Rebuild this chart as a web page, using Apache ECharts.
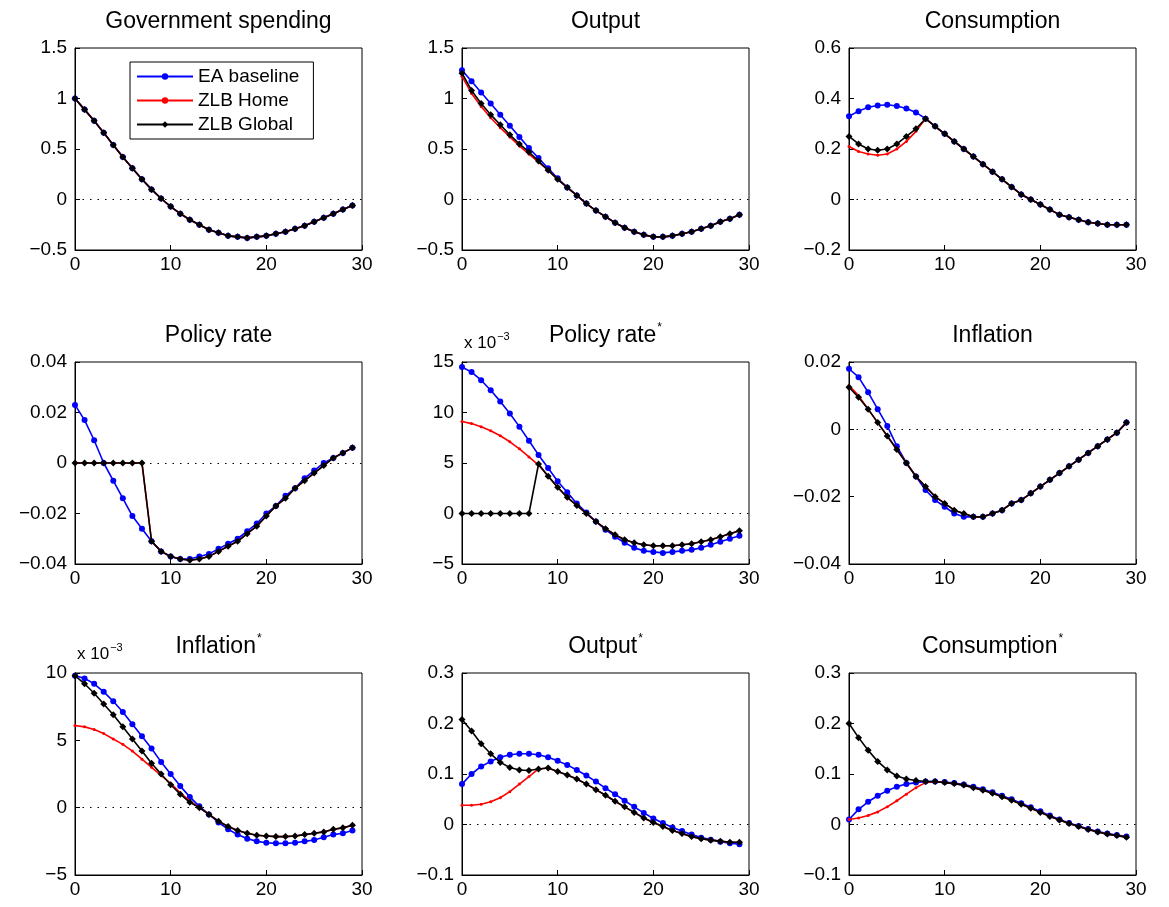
<!DOCTYPE html>
<html>
<head>
<meta charset="utf-8">
<title>IRF grid</title>
<style>
  body { margin: 0; background: #fff; }
  #container { width: 1169px; height: 907px; }
</style>
</head>
<body>
<div id="container"></div>
<script src="https://cdn.jsdelivr.net/npm/echarts@6/dist/echarts.min.js"></script>
<script type="text/javascript">
// periods 0..29
var periods = [];
for (var i = 0; i < 30; i++) periods.push(i);

var seriesNames = ['EA baseline', 'ZLB Home', 'ZLB Global'];

// Government spending (identical for all three)
var govBase = [1,0.89,0.78,0.66,0.54,0.42,0.31,0.2,0.1,0.01,-0.07,-0.14,-0.2,-0.25,-0.3,-0.33,-0.36,-0.37,-0.38,-0.37,-0.36,-0.34,-0.32,-0.29,-0.26,-0.22,-0.18,-0.14,-0.1,-0.06];
var govHome = govBase.slice();
var govGlobal = govBase.slice();

var outBase = [1.28,1.17,1.06,0.95,0.84,0.73,0.62,0.51,0.41,0.31,0.21,0.12,0.04,-0.04,-0.11,-0.17,-0.23,-0.28,-0.32,-0.35,-0.37,-0.37,-0.36,-0.34,-0.32,-0.29,-0.26,-0.22,-0.19,-0.15];
var outHome = [1.22,1.05,0.92,0.81,0.71,0.62,0.53,0.45,0.37,0.29,0.2,0.12,0.04,-0.04,-0.11,-0.17,-0.23,-0.28,-0.32,-0.35,-0.37,-0.37,-0.36,-0.34,-0.32,-0.29,-0.26,-0.22,-0.19,-0.15];
var outGlobal = [1.25,1.08,0.95,0.84,0.74,0.64,0.55,0.47,0.38,0.29,0.2,0.12,0.04,-0.04,-0.11,-0.17,-0.23,-0.28,-0.32,-0.35,-0.37,-0.37,-0.36,-0.34,-0.32,-0.29,-0.26,-0.22,-0.19,-0.15];

var conBase = [0.33,0.35,0.365,0.372,0.375,0.37,0.36,0.345,0.32,0.29,0.26,0.23,0.2,0.17,0.14,0.11,0.08,0.05,0.02,0,-0.02,-0.04,-0.06,-0.07,-0.08,-0.09,-0.095,-0.1,-0.1,-0.1];
var conHome = [0.21,0.19,0.18,0.175,0.18,0.2,0.23,0.27,0.32,0.29,0.26,0.23,0.2,0.17,0.14,0.11,0.08,0.05,0.02,0,-0.02,-0.04,-0.06,-0.07,-0.08,-0.09,-0.095,-0.1,-0.1,-0.1];
var conGlobal = [0.25,0.22,0.2,0.195,0.2,0.22,0.25,0.28,0.32,0.29,0.26,0.23,0.2,0.17,0.14,0.11,0.08,0.05,0.02,0,-0.02,-0.04,-0.06,-0.07,-0.08,-0.09,-0.095,-0.1,-0.1,-0.1];

var rateBase = [0.023,0.017,0.009,0,-0.007,-0.014,-0.021,-0.026,-0.031,-0.035,-0.037,-0.038,-0.038,-0.037,-0.036,-0.034,-0.032,-0.03,-0.027,-0.024,-0.02,-0.017,-0.013,-0.01,-0.006,-0.003,0,0.002,0.004,0.006];
var rateHome = [0,0,0,0,0,0,0,0,-0.031,-0.035,-0.037,-0.038,-0.0385,-0.038,-0.037,-0.035,-0.033,-0.031,-0.028,-0.025,-0.021,-0.017,-0.014,-0.01,-0.007,-0.004,-0.001,0.002,0.004,0.006];
var rateGlobal = rateHome.slice();

// Policy rate* (x 10^-3)
var rateStarBase = [14.5,14,13.2,12.2,11.1,9.9,8.6,7.2,5.8,4.5,3.2,2.1,1,0.1,-0.8,-1.6,-2.3,-2.9,-3.4,-3.7,-3.8,-3.9,-3.8,-3.7,-3.6,-3.4,-3.1,-2.8,-2.5,-2.2];
var rateStarHome = [9.1,8.9,8.6,8.2,7.7,7.1,6.4,5.6,4.8,3.7,2.6,1.6,0.8,0,-0.8,-1.5,-2.1,-2.6,-2.9,-3.1,-3.2,-3.2,-3.2,-3.1,-3,-2.8,-2.6,-2.3,-2,-1.7];
var rateStarGlobal = [0,0,0,0,0,0,0,0,4.9,3.7,2.6,1.6,0.8,0,-0.8,-1.5,-2.1,-2.6,-2.9,-3.1,-3.2,-3.2,-3.2,-3.1,-3,-2.8,-2.6,-2.3,-2,-1.7];

var infBase = [0.018,0.0155,0.011,0.006,0.001,-0.005,-0.01,-0.014,-0.018,-0.021,-0.023,-0.025,-0.026,-0.026,-0.026,-0.025,-0.024,-0.022,-0.021,-0.019,-0.017,-0.015,-0.013,-0.011,-0.009,-0.007,-0.005,-0.003,-0.001,0.002];
var infHome = [0.013,0.01,0.006,0.002,-0.002,-0.006,-0.01,-0.014,-0.017,-0.02,-0.022,-0.024,-0.025,-0.026,-0.026,-0.025,-0.024,-0.022,-0.021,-0.019,-0.017,-0.015,-0.013,-0.011,-0.009,-0.007,-0.005,-0.003,-0.001,0.002];
var infGlobal = [0.0125,0.0095,0.006,0.002,-0.002,-0.006,-0.01,-0.014,-0.017,-0.02,-0.022,-0.024,-0.025,-0.026,-0.026,-0.025,-0.024,-0.022,-0.021,-0.019,-0.017,-0.015,-0.013,-0.011,-0.009,-0.007,-0.005,-0.003,-0.001,0.002];

// Inflation* (x 10^-3)
var infStarBase = [9.8,9.6,9.2,8.6,7.9,7.1,6.2,5.3,4.4,3.4,2.5,1.6,0.8,0.1,-0.5,-1.1,-1.6,-2,-2.3,-2.5,-2.6,-2.65,-2.65,-2.6,-2.5,-2.4,-2.2,-2,-1.9,-1.7];
var infStarHome = [6.1,6,5.8,5.5,5.1,4.7,4.2,3.6,3,2.4,1.8,1.1,0.5,0,-0.5,-1,-1.4,-1.7,-1.9,-2.05,-2.1,-2.15,-2.15,-2.1,-2,-1.9,-1.8,-1.6,-1.5,-1.3];
var infStarGlobal = [9.8,9.2,8.5,7.7,6.9,6,5.1,4.2,3.3,2.5,1.7,1,0.4,0,-0.5,-1,-1.4,-1.7,-1.9,-2.05,-2.1,-2.15,-2.15,-2.1,-2,-1.9,-1.8,-1.6,-1.5,-1.3];

var outStarBase = [0.08,0.1,0.115,0.125,0.133,0.138,0.14,0.14,0.138,0.133,0.126,0.118,0.108,0.097,0.085,0.072,0.06,0.047,0.035,0.023,0.012,0.003,-0.006,-0.013,-0.02,-0.026,-0.03,-0.034,-0.037,-0.039];
var outStarHome = [0.038,0.038,0.04,0.045,0.053,0.065,0.08,0.095,0.11,0.112,0.105,0.098,0.09,0.08,0.069,0.058,0.046,0.035,0.024,0.013,0.004,-0.004,-0.012,-0.018,-0.024,-0.028,-0.031,-0.033,-0.035,-0.035];
var outStarGlobal = [0.208,0.185,0.16,0.14,0.123,0.113,0.108,0.107,0.11,0.112,0.105,0.098,0.09,0.08,0.069,0.058,0.046,0.035,0.024,0.013,0.004,-0.004,-0.012,-0.018,-0.024,-0.028,-0.031,-0.033,-0.035,-0.035];

var conStarBase = [0.01,0.03,0.045,0.057,0.067,0.075,0.08,0.083,0.085,0.085,0.084,0.082,0.079,0.075,0.07,0.064,0.057,0.05,0.042,0.034,0.026,0.018,0.01,0.003,-0.003,-0.009,-0.014,-0.018,-0.021,-0.024];
var conStarHome = [0.01,0.013,0.018,0.025,0.035,0.047,0.06,0.073,0.083,0.085,0.083,0.081,0.078,0.073,0.068,0.062,0.055,0.048,0.04,0.032,0.024,0.016,0.009,0.002,-0.004,-0.01,-0.015,-0.019,-0.022,-0.025];
var conStarGlobal = [0.2,0.172,0.147,0.125,0.108,0.096,0.09,0.087,0.085,0.085,0.083,0.081,0.078,0.073,0.068,0.062,0.055,0.048,0.04,0.032,0.024,0.016,0.009,0.002,-0.004,-0.01,-0.015,-0.019,-0.022,-0.025];

var panels = [
  {title: 'Government spending', star: false, scale: false, min: -0.5, max: 1.5, interval: 0.5, data: [govBase, govHome, govGlobal]},
  {title: 'Output', star: false, scale: false, min: -0.5, max: 1.5, interval: 0.5, data: [outBase, outHome, outGlobal]},
  {title: 'Consumption', star: false, scale: false, min: -0.2, max: 0.6, interval: 0.2, data: [conBase, conHome, conGlobal]},
  {title: 'Policy rate', star: false, scale: false, min: -0.04, max: 0.04, interval: 0.02, data: [rateBase, rateHome, rateGlobal]},
  {title: 'Policy rate', star: true, scale: true, min: -5, max: 15, interval: 5, data: [rateStarBase, rateStarHome, rateStarGlobal]},
  {title: 'Inflation', star: false, scale: false, min: -0.04, max: 0.02, interval: 0.02, data: [infBase, infHome, infGlobal]},
  {title: 'Inflation', star: true, scale: true, min: -5, max: 10, interval: 5, data: [infStarBase, infStarHome, infStarGlobal]},
  {title: 'Output', star: true, scale: false, min: -0.1, max: 0.3, interval: 0.1, data: [outStarBase, outStarHome, outStarGlobal]},
  {title: 'Consumption', star: true, scale: false, min: -0.1, max: 0.3, interval: 0.1, data: [conStarBase, conStarHome, conStarGlobal]}
];

var colLeft = [75, 462, 849];
var rowTop = [48, 362, 673];
var gw = 287, gh = 202;
var font = 'Liberation Sans, Arial, sans-serif';

var colors = ['#0000ff', '#ff0000', '#000000'];
var symbols = ['circle', 'circle', 'diamond'];
var symSizes = [6, 3, 7];

var grids = [], xAxes = [], yAxes = [], series = [], graphics = [];

panels.forEach(function (p, k) {
  var r = Math.floor(k / 3), c = k % 3;
  grids.push({left: colLeft[c], top: rowTop[r], width: gw, height: gh,
    show: true, borderColor: '#000', borderWidth: 1});
  xAxes.push({gridIndex: k, type: 'value', min: 0, max: 30, interval: 10,
    axisLine: {onZero: false, lineStyle: {color: '#000'}}, axisTick: {inside: true, length: 5},
    axisLabel: {color: '#000', fontSize: 19, fontFamily: font, margin: 5},
    splitLine: {show: false}});
  yAxes.push({gridIndex: k, type: 'value', min: p.min, max: p.max, interval: p.interval,
    axisLine: {show: true, onZero: false, lineStyle: {color: '#000'}}, axisTick: {inside: true, length: 5},
    axisLabel: {color: '#000', fontSize: 19, fontFamily: font, margin: 8,
      formatter: function (v) {
        var s = String(Math.round(v * 1000) / 1000);
        return s.replace('-', '\u2212');
      }},
    splitLine: {show: false}});

  p.data.forEach(function (vals, j) {
    var s = {
      name: seriesNames[j], type: 'line', xAxisIndex: k, yAxisIndex: k,
      data: periods.map(function (t, i) { return [t, vals[i]]; }),
      symbol: symbols[j], symbolSize: symSizes[j], showSymbol: true,
      lineStyle: {color: colors[j], width: 1.6},
      itemStyle: {color: colors[j]},
      animation: false, silent: true, z: 2 + j
    };
    if (j === 0) {
      s.markLine = {silent: true, symbol: 'none', label: {show: false},
        lineStyle: {color: '#000', type: [1.5, 6], width: 1.2},
        data: [[{coord: [0, 0]}, {coord: [30, 0]}]]};
    }
    series.push(s);
  });

  var cx = colLeft[c] + gw / 2;
  graphics.push({type: 'text', x: cx, y: rowTop[r] - 26,
    style: {text: p.star ? '{t|' + p.title + '}{s|*}' : '{t|' + p.title + '}',
      textAlign: 'center', textVerticalAlign: 'middle', fill: '#000',
      rich: {t: {fontSize: 23, fontFamily: font}, s: {fontSize: 12, fontFamily: font, padding: [0, 0, 16, 1]}}}});
  if (p.scale) {
    graphics.push({type: 'text', x: colLeft[c] + 2, y: rowTop[r] - 19,
      style: {text: '{a|x 10}{b|\u22123}', fill: '#000', textVerticalAlign: 'middle',
        rich: {a: {fontSize: 17, fontFamily: font}, b: {fontSize: 11, fontFamily: font, padding: [0, 0, 12, 1]}}}});
  }
});

var myChart = echarts.init(document.getElementById('container'));
var option = {
  backgroundColor: '#fff',
  animation: false,
  grid: grids,
  xAxis: xAxes,
  yAxis: yAxes,
  series: series,
  legend: {
    data: seriesNames, orient: 'vertical', left: 130, top: 62,
    backgroundColor: '#fff', borderColor: '#000', borderWidth: 1,
    padding: [5, 14, 5, 6], itemGap: 5, itemWidth: 56, itemHeight: 8,
    textStyle: {fontSize: 19, fontFamily: font, color: '#000'}
  },
  graphic: graphics
};
myChart.setOption(option);
</script>
</body>
</html>
